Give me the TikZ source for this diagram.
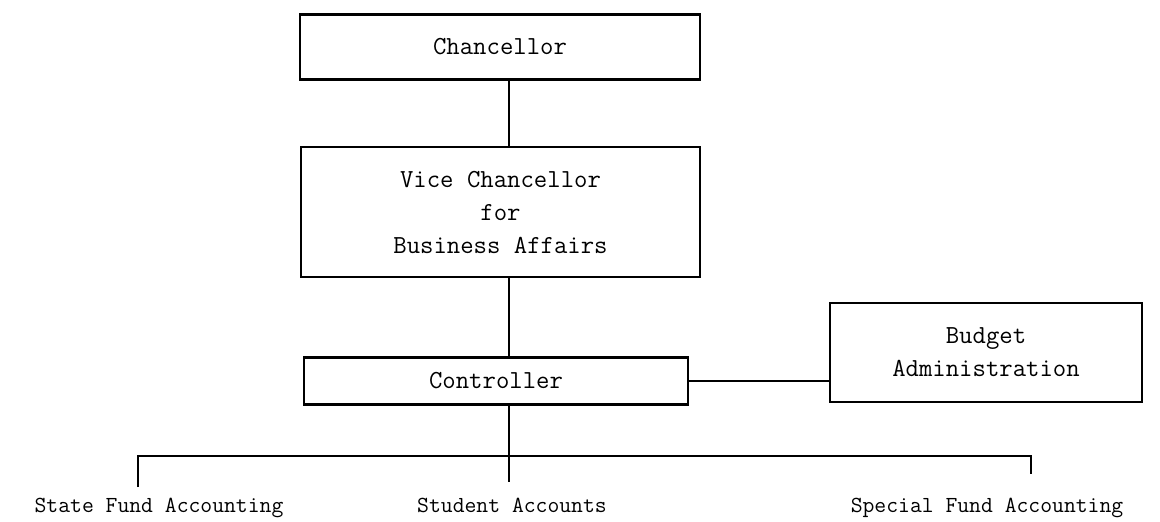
\documentclass[tikz,border=0pt]{standalone}
\begin{document}
\begin{tikzpicture}[x=1pt,y=-1pt,
  box/.style={draw,line width=2.6pt,inner sep=0pt,align=center,
    font=\ttfamily\fontsize{26}{33}\selectfont},
  ln/.style={line width=2.6pt},
  lbl/.style={font=\ttfamily\fontsize{23}{28}\selectfont,inner sep=0pt,anchor=north}]
\useasboundingbox[fill=white] (0,0) rectangle (1160,522);
\node[box,minimum width=400pt,minimum height=65pt] (ch) at (500,47) {Chancellor};
\node[box,minimum width=399pt,minimum height=130pt] (vc) at (500.5,212) {Vice Chancellor\\for\\Business Affairs};
\node[box,minimum width=384pt,minimum height=47pt] (ctrl) at (496,381) {Controller};
\node[box,minimum width=312pt,minimum height=99pt] (bud) at (986,352.5) {Budget\\Administration};
\coordinate (spine) at (509,0);
\coordinate (barL) at (138,456);
\coordinate (barR) at (1031,456);
\coordinate (spineEnd) at (509,482);
\coordinate (dropL) at (138,487);
\coordinate (dropR) at (1031,474);
\draw[ln] (ch.south -| spine) -- (vc.north -| spine);
\draw[ln] (vc.south -| spine) -- (ctrl.north -| spine);
\draw[ln] (ctrl.east) -- (ctrl.east -| bud.west);
\draw[ln] (ctrl.south -| spine) -- (spineEnd);
\draw[ln] (dropL) -- (barL) -- (barR) -- (dropR);
\node[lbl] (sfa) at (159,498) {State Fund Accounting};
\node[lbl] (sa) at (512,498) {Student Accounts};
\node[lbl] (spfa) at (987,498) {Special Fund Accounting};
\end{tikzpicture}
\end{document}
